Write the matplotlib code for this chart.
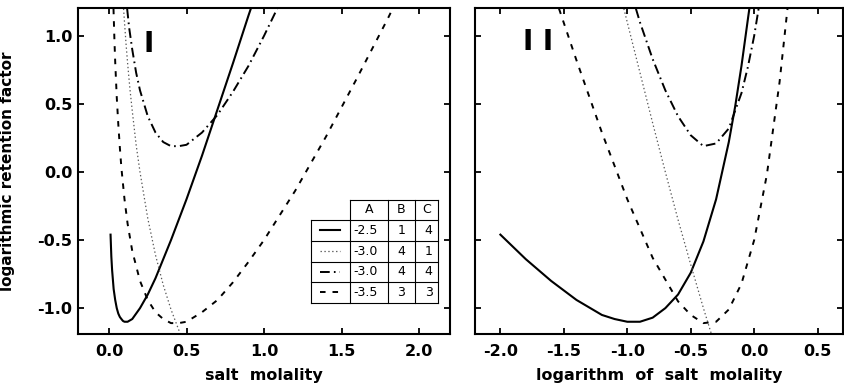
import matplotlib

matplotlib.use("Agg")
from matplotlib import pyplot as plt

# panel I: log retention factor vs salt molality
solid_m = [0.01, 0.015, 0.02, 0.03, 0.04, 0.05, 0.06, 0.07, 0.08, 0.09, 0.10,
           0.12, 0.15, 0.20, 0.25, 0.30, 0.40, 0.50, 0.60, 0.70, 0.80, 0.90, 0.915]
solid_k = [-0.46, -0.62, -0.72, -0.86, -0.94, -1.00, -1.04, -1.065, -1.08, -1.094, -1.10,
           -1.10, -1.08, -1.00, -0.90, -0.78, -0.50, -0.20, 0.12, 0.46, 0.80, 1.15, 1.20]
dotted_m = [0.094, 0.10, 0.11, 0.12, 0.135, 0.15, 0.175, 0.20, 0.25, 0.30, 0.35, 0.40, 0.45, 0.46]
dotted_k = [1.20, 1.10, 0.94, 0.80, 0.61, 0.45, 0.20, 0.00, -0.34, -0.61, -0.83, -1.01, -1.16, -1.19]
dashdot_m = [0.117, 0.13, 0.15, 0.175, 0.20, 0.25, 0.30, 0.35, 0.40, 0.45, 0.50, 0.60,
             0.70, 0.80, 0.90, 1.00, 1.085]
dashdot_k = [1.20, 1.06, 0.90, 0.73, 0.60, 0.41, 0.29, 0.22, 0.19, 0.19, 0.20, 0.29,
             0.42, 0.59, 0.78, 1.00, 1.20]
dashed_m = [0.029, 0.035, 0.04, 0.05, 0.06, 0.07, 0.08, 0.10, 0.12, 0.15, 0.20, 0.25, 0.30,
            0.35, 0.40, 0.45, 0.50, 0.60, 0.70, 0.80, 0.90, 1.00, 1.20, 1.40, 1.60, 1.80, 1.83]
dashed_k = [1.20, 0.97, 0.81, 0.55, 0.35, 0.18, 0.03, -0.20, -0.38, -0.58, -0.80, -0.94, -1.03,
            -1.08, -1.11, -1.11, -1.10, -1.03, -0.94, -0.81, -0.66, -0.50, -0.14, 0.26, 0.69, 1.13, 1.20]

# panel II: same curves vs log10 of salt molality
solid_logm = [-2.0, -1.8, -1.6, -1.4, -1.2, -1.1, -1.0, -0.9, -0.8, -0.7, -0.6, -0.5,
              -0.4, -0.3, -0.2, -0.15, -0.1, -0.05, -0.038]
solid_logk = [-0.46, -0.64, -0.80, -0.94, -1.05, -1.08, -1.10, -1.10, -1.07, -1.00, -0.90, -0.74,
              -0.51, -0.20, 0.22, 0.48, 0.78, 1.12, 1.20]
dotted_logm = [-1.027, -0.9, -0.8, -0.7, -0.6, -0.5, -0.4, -0.337]
dotted_logk = [1.20, 0.73, 0.36, 0.00, -0.35, -0.68, -1.00, -1.19]
dashdot_logm = [-0.932, -0.9, -0.8, -0.7, -0.6, -0.5, -0.4, -0.3, -0.2, -0.1, -0.05, 0.0, 0.035]
dashdot_logk = [1.20, 1.10, 0.83, 0.60, 0.41, 0.27, 0.19, 0.21, 0.32, 0.58, 0.77, 1.00, 1.20]
dashed_logm = [-1.538, -1.4, -1.2, -1.0, -0.8, -0.6, -0.5, -0.4, -0.3, -0.2, -0.1, 0.0, 0.1, 0.2, 0.2625]
dashed_logk = [1.20, 0.82, 0.29, -0.20, -0.63, -0.95, -1.05, -1.11, -1.10, -1.01, -0.82, -0.50,
               -0.02, 0.66, 1.20]

# parameter table
param_A = [-2.5, -3.0, -3.0, -3.5]
param_B = [1, 4, 4, 3]
param_C = [4, 1, 4, 3]

y_ticks = [-1.0, -0.5, 0.0, 0.5, 1.0]
y_ticklabels = ["-1.0", "-0.5", "0.0", "0.5", "1.0"]
x1_ticks = [0.0, 0.5, 1.0, 1.5, 2.0]
x1_ticklabels = ["0.0", "0.5", "1.0", "1.5", "2.0"]
x2_ticks = [-2.0, -1.5, -1.0, -0.5, 0.0, 0.5]
x2_ticklabels = ["-2.0", "-1.5", "-1.0", "-0.5", "0.0", "0.5"]

STYLES = [
    dict(color="black", lw=1.5, ls="-"),
    dict(color="0.35", lw=0.9, ls=(0, (1, 1.8))),
    dict(color="black", lw=1.4, ls=(0, (7, 3, 1.2, 3))),
    dict(color="black", lw=1.4, ls=(0, (4, 5))),
]


def style_axis(ax, xticks, xlabels, show_ylabels):
    ax.set_ylim(-1.19, 1.205)
    ax.set_xticks(xticks, xlabels, fontweight="bold")
    if show_ylabels:
        ax.set_yticks(y_ticks, y_ticklabels, fontweight="bold")
    else:
        ax.set_yticks(y_ticks, [])
    ax.tick_params(direction="in", length=4.5, width=1.3, top=True, right=True,
                   labelsize=11.5)
    ax.tick_params(axis="x", pad=7)
    ax.tick_params(axis="y", pad=4)
    for s in ax.spines.values():
        s.set_linewidth(1.5)


def draw_table(ax):
    xs = [0.626, 0.731, 0.833, 0.906, 0.969]
    ys = [0.411, 0.350, 0.285, 0.222, 0.160, 0.096]
    kw = dict(transform=ax.transAxes, color="black", lw=0.8, clip_on=False)
    ax.plot([xs[1], xs[-1]], [ys[0], ys[0]], **kw)
    for y in ys[1:]:
        ax.plot([xs[0], xs[-1]], [y, y], **kw)
    ax.plot([xs[0], xs[0]], [ys[1], ys[-1]], **kw)
    for x in xs[1:]:
        ax.plot([x, x], [ys[0], ys[-1]], **kw)
    tkw = dict(transform=ax.transAxes, fontsize=9, va="center")
    hy = (ys[0] + ys[1]) / 2
    for name, i in zip(["A", "B", "C"], range(1, 4)):
        ax.text((xs[i] + xs[i + 1]) / 2, hy, name, ha="center", **tkw)
    for r in range(4):
        yc = (ys[r + 1] + ys[r + 2]) / 2
        st = dict(STYLES[r])
        ax.plot([0.651, 0.704], [yc, yc], transform=ax.transAxes, clip_on=False, **st)
        ax.text(xs[1] + 0.008, yc, f"{param_A[r]:.1f}", ha="left", **tkw)
        ax.text((xs[2] + xs[3]) / 2, yc, str(param_B[r]), ha="center", **tkw)
        ax.text((xs[3] + xs[4]) / 2 + 0.005, yc, str(param_C[r]), ha="center", **tkw)


def main():
    plt.rcParams["font.family"] = ["DejaVu Sans"]
    plt.rcParams["lines.scale_dashes"] = False

    fig = plt.figure(figsize=(8.44, 3.9), dpi=100)
    ax1 = fig.add_axes([78 / 844, 56 / 390, 372 / 844, 326 / 390])
    ax2 = fig.add_axes([475 / 844, 56 / 390, 368 / 844, 326 / 390])

    curves1 = [(solid_m, solid_k), (dotted_m, dotted_k), (dashdot_m, dashdot_k), (dashed_m, dashed_k)]
    curves2 = [(solid_logm, solid_logk), (dotted_logm, dotted_logk),
               (dashdot_logm, dashdot_logk), (dashed_logm, dashed_logk)]
    for (x, y), st in zip(curves1, STYLES):
        ax1.plot(x, y, **st)
    for (x, y), st in zip(curves2, STYLES):
        ax2.plot(x, y, **st)

    ax1.set_xlim(-0.2, 2.2)
    ax2.set_xlim(-2.2, 0.7)
    style_axis(ax1, x1_ticks, x1_ticklabels, True)
    style_axis(ax2, x2_ticks, x2_ticklabels, False)

    ax1.set_xlabel("salt  molality", fontsize=11.5, fontweight="bold")
    ax2.set_xlabel("logarithm  of  salt  molality", fontsize=11.5, fontweight="bold")
    ax1.xaxis.set_label_coords(0.5, -0.105)
    ax2.xaxis.set_label_coords(0.5, -0.105)
    ax1.set_ylabel("logarithmic retention factor", fontsize=11, fontweight="bold")
    ax1.yaxis.set_label_coords(-0.17, 0.5)

    ax1.text(0.258, 0.937, "I", fontsize=20, fontweight="bold", ha="center", va="center")
    ax2.text(-1.70, 0.955, "I I", fontsize=20, fontweight="bold", ha="center", va="center")

    draw_table(ax1)

    fig.savefig("out.png", dpi=100)


if __name__ == "__main__":
    main()
